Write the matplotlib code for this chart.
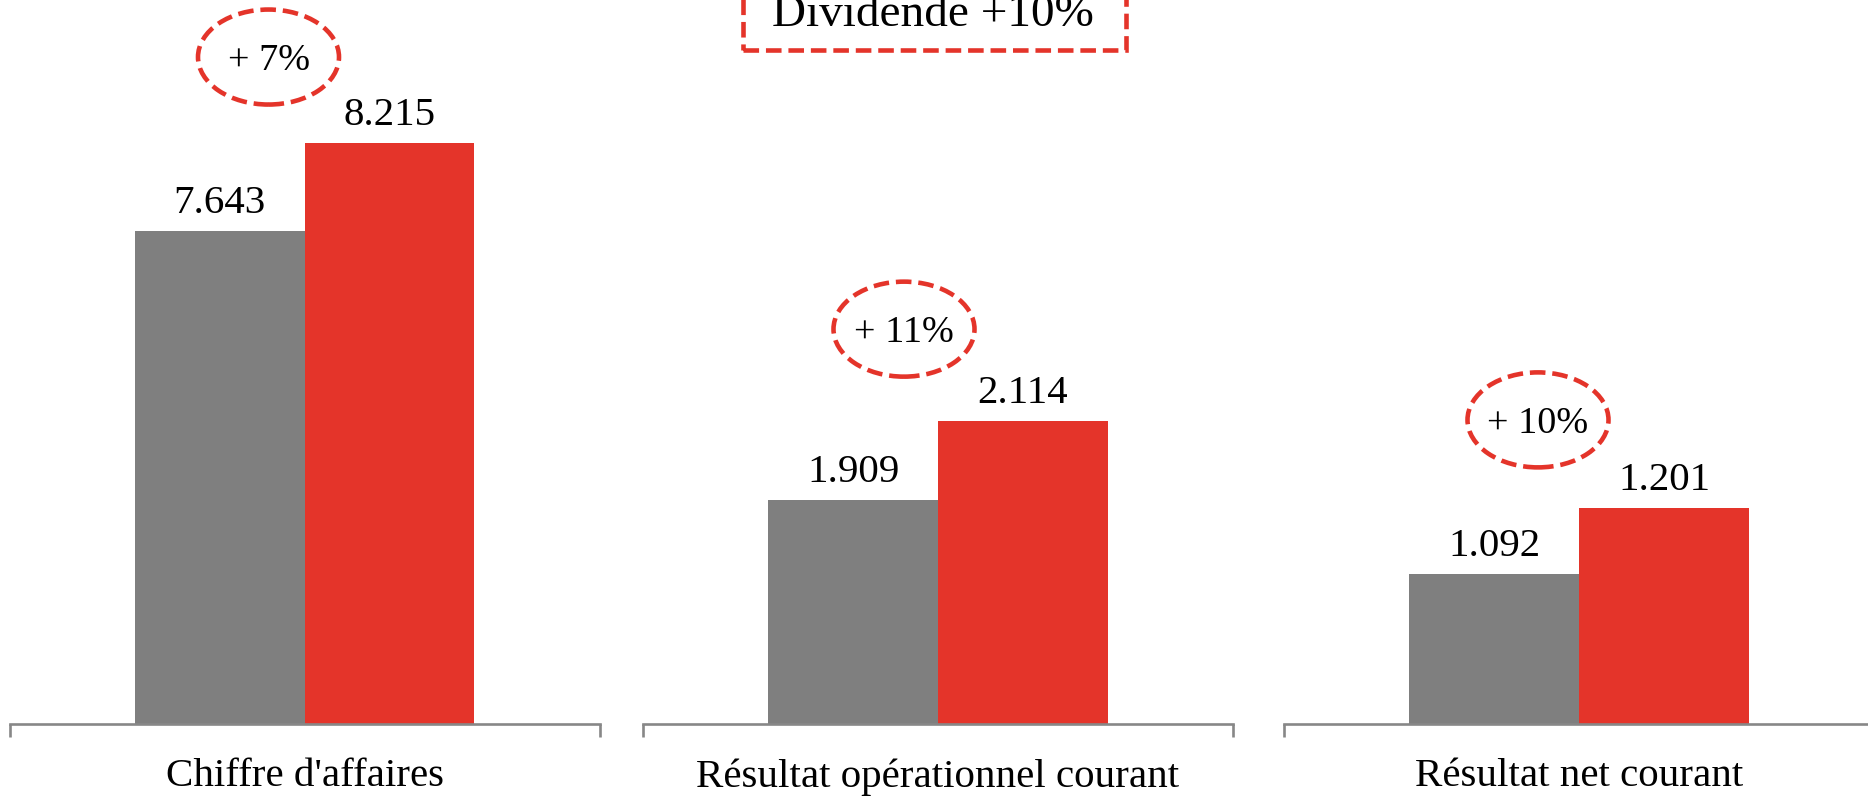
import numpy as np
import matplotlib.pyplot as plt
import matplotlib.patches as mpatches
import matplotlib.transforms as mtransforms

plt.rcParams['font.family'] = ['Liberation Serif', 'DejaVu Serif']

# data
categories = ["Chiffre d'affaires", 'Résultat opérationnel courant', 'Résultat net courant']
prev_year = [7.643, 1.909, 1.092]
curr_year = [8.215, 2.114, 1.201]
value_labels_prev = ['7.643', '1.909', '1.092']
value_labels_curr = ['8.215', '2.114', '1.201']
growth_labels = ['+ %d%%' % round((c / p - 1) * 100) for p, c in zip(prev_year, curr_year)]
banner_text = 'Dividende +10%'

# layout (each panel has its own value axis)
ylims = [(4.438, 9.145), (1.328, 3.207), (0.844, 2.040)]
panel_left = [9.5, 643, 1284]          # px
panel_width = 590                       # px
ellipse_offset = [(-36, 86), (-34, 92), (-41, 88)]   # px from top of red bar

gray = '#7f7f7f'
red = '#e4342a'
axis_col = '#878787'
W, H = 1868, 796
bar_w = 0.288
dash = (0, (3.4, 1.5))

fig = plt.figure(figsize=(W / 100, H / 100), dpi=100)

for i in range(3):
    ax = fig.add_axes([panel_left[i] / W, 1 - 724 / H, panel_width / W, 724 / H])
    ax.set_xlim(-0.5, 0.5)
    ax.set_ylim(*ylims[i])
    ax.bar(-bar_w / 2, prev_year[i], width=bar_w, color=gray, bottom=0)
    ax.bar(bar_w / 2, curr_year[i], width=bar_w, color=red, bottom=0)

    # value labels
    ax.annotate(value_labels_prev[i], (-bar_w / 2, prev_year[i]), xytext=(0, 13),
                textcoords='offset points', ha='center', va='baseline', fontsize=29.5)
    ax.annotate(value_labels_curr[i], (bar_w / 2, curr_year[i]), xytext=(0, 13),
                textcoords='offset points', ha='center', va='baseline', fontsize=29.5)

    # spines / ticks
    for s in ['top', 'right', 'left']:
        ax.spines[s].set_visible(False)
    ax.spines['bottom'].set_color(axis_col)
    ax.spines['bottom'].set_linewidth(1.9)
    ax.set_yticks([])
    ax.set_xticks([-0.5, 0.5])
    ax.set_xticklabels(['', ''])
    ax.tick_params(axis='x', which='major', length=9.5, width=1.9, color=axis_col)
    ax.set_xticks([0], minor=True)
    ax.set_xticklabels([categories[i]], minor=True, fontsize=29.5)
    ax.tick_params(axis='x', which='minor', length=0, pad=24.5)
    ax.patch.set_alpha(0)

    # dashed ellipse with growth rate, anchored above the red bar
    trans = fig.dpi_scale_trans + mtransforms.ScaledTranslation(0, curr_year[i], ax.transData)
    dx, dy = ellipse_offset[i]
    ell = mpatches.Ellipse((dx / 100, dy / 100), 1.41, 0.95, transform=trans,
                           fill=False, edgecolor=red, lw=3.3, linestyle=dash,
                           clip_on=False)
    ax.add_patch(ell)
    ax.text(dx / 100, dy / 100, growth_labels[i], transform=trans, ha='center',
            va='center_baseline', fontsize=27.5)

# dividend banner at the top
rect = mpatches.Rectangle((743 / W, 1 - 50 / H), (1126 - 743) / W, 0.2,
                          transform=fig.transFigure, fill=False, edgecolor=red,
                          lw=3.3, linestyle=dash, clip_on=False)
fig.patches.append(rect)
fig.text(933 / W, 1 - 26 / H, banner_text, ha='center', va='baseline', fontsize=34)

fig.savefig('out.png', dpi=100)
